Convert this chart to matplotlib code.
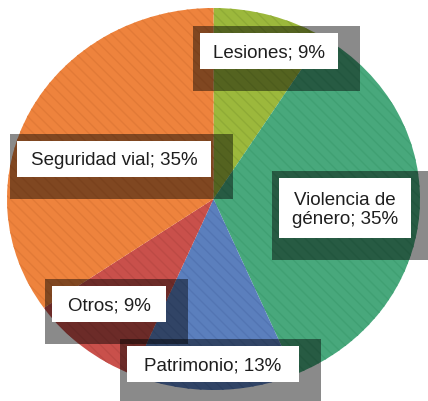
import matplotlib
matplotlib.use("Agg")
import matplotlib.pyplot as plt
from matplotlib.patches import Rectangle

categories = ["Lesiones", "Violencia de\ngénero", "Patrimonio", "Otros", "Seguridad vial"]
values = [9, 35, 13, 9, 35]
colors = ["#9cb83c", "#48a87c", "#5b7fbd", "#c9504b", "#ee833d"]
hatch_colors = ["#8fab36", "#40a073", "#5375b3", "#bd4a45", "#e27a37"]

# white label boxes (x0, y0, x1, y1) in pixel layout
boxes = [(200, 34, 338, 70), (279, 179, 411, 239), (127, 347, 299, 383),
         (52, 287, 166, 323), (17, 142, 211, 178)]

W, H = 428, 402
fig = plt.figure(figsize=(W / 100, H / 100), dpi=100)
fig.patch.set_facecolor("white")
plt.rcParams["hatch.linewidth"] = 1.0

ax = fig.add_axes([7 / W, (H - 391) / H, 413 / W, 382 / H])
wedges, _ = ax.pie(values, colors=colors, startangle=90, counterclock=False,
                   wedgeprops=dict(linewidth=0))
for w, hc in zip(wedges, hatch_colors):
    w.set_hatch("\\\\\\")
    w.set_edgecolor(hc)
    w.set_linewidth(0)
ax.set_aspect("auto")
ax.set_xlim(-1, 1)
ax.set_ylim(-1, 1)
ax.axis("off")

ax2 = fig.add_axes([0, 0, 1, 1])
ax2.set_xlim(0, W)
ax2.set_ylim(H, 0)
ax2.axis("off")
ax2.patch.set_alpha(0)

for cat, val, (x0, y0, x1, y1) in zip(categories, values, boxes):
    ax2.add_patch(Rectangle((x0 - 7, y0 - 7), (x1 - x0) + 29, (y1 - y0) + 29,
                            facecolor="black", alpha=0.46, linewidth=0))
    ax2.add_patch(Rectangle((x0, y0), x1 - x0, y1 - y0,
                            facecolor="white", linewidth=0))
    ax2.text((x0 + x1) / 2, (y0 + y1) / 2 + 1, f"{cat}; {val}%", ha="center", va="center",
             fontsize=13.5, family="Liberation Sans", color="#1e1e1e",
             linespacing=1.12)

fig.savefig("out.png", dpi=100)
